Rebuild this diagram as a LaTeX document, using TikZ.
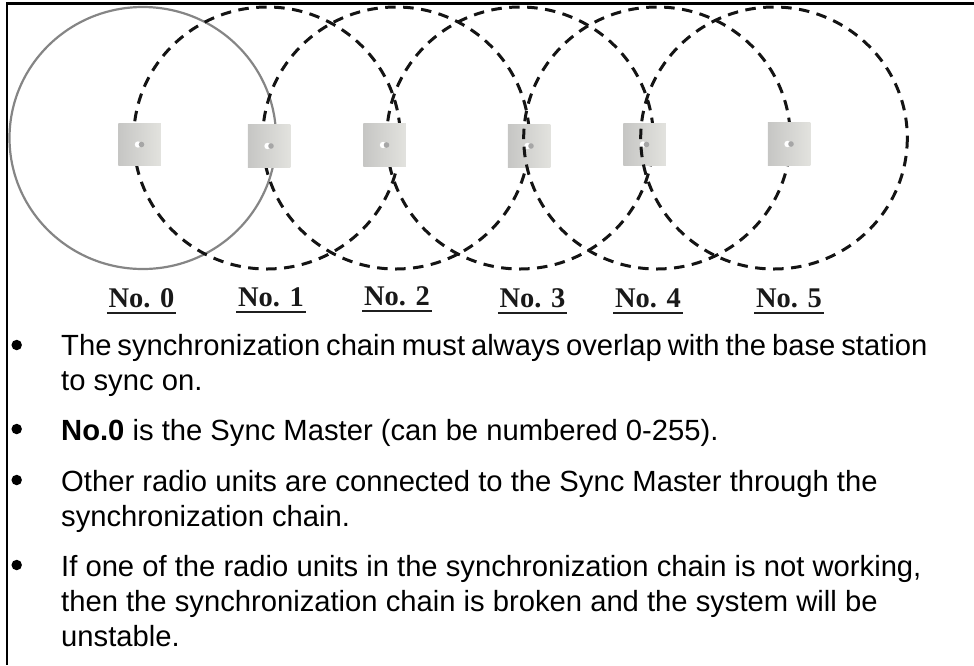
\documentclass[tikz,border=0pt]{standalone}
\usepackage{fontspec}
\setmainfont{Liberation Sans}
\newfontfamily\labelfont{Liberation Serif}
\definecolor{sqL}{HTML}{C6C6C4}
\definecolor{sqR}{HTML}{E2E2DE}
\definecolor{ringgray}{HTML}{858585}
\tikzset{
  x=1pt,y=-1pt,
  border/.style={line width=2.6pt,black},
  master/.style={line width=2.2pt,ringgray},
  rangering/.style={line width=3pt,black!92,dash pattern=on 10.5pt off 7.5pt},
  unitbox/.style={draw=none,left color=sqL,right color=sqR,minimum size=42.5pt,inner sep=0pt},
  unitname/.style={font=\labelfont\fontsize{28.5}{28.5}\selectfont\bfseries,text=black!90,anchor=base,inner ysep=0pt,inner xsep=1.5pt},
  uline/.style={line width=2.6pt,black!88},
  bullettext/.style={font=\fontsize{29.2}{35}\selectfont,anchor=base west,inner sep=0pt,align=left},
  bulletdot/.style={circle,fill=black,minimum size=10.5pt,inner sep=0pt},
}
\newcommand{\ringat}[2][rangering]{\draw[#1] (#2,138) ellipse[x radius=133.3,y radius=131];}
\newcommand{\unitat}[3]{%
  \node[unitbox] (#1) at (#2,#3) {};
  \fill[white] ([xshift=-1.5pt]#1.center) circle[radius=3.2];
  \fill[black!35] ([xshift=2pt]#1.center) circle[radius=2.8];
}
\begin{document}
\begin{tikzpicture}
\useasboundingbox (0,0) rectangle (974,665);
% frame
\coordinate (tl) at (7,3.7);
\coordinate (tr) at (974,3.7);
\coordinate (bl) at (7,665);
\draw[border] (tr) -- (tl) -- (bl);
% rings and units, in the reference's stacking order
\ringat[master]{142.8}
\ringat{267}
\ringat{396}
\ringat{520}
\unitat{u0}{139.5}{144.5}
\unitat{u1}{269}{146}
\unitat{u2}{384.5}{145}
\unitat{u3}{529}{146}
\unitat{u4}{644.5}{144.5}
\ringat{657}
\ringat{774}
\unitat{u5}{789}{144}
% labels
\node[unitname] (n0) at (141.5,307) {No. 0};
\node[unitname] (n1) at (271,306) {No. 1};
\node[unitname] (n2) at (397,305) {No. 2};
\node[unitname] (n3) at (532.5,307) {No. 3};
\node[unitname] (n4) at (648,307) {No. 4};
\node[unitname] (n5) at (789,307) {No. 5};
\foreach \n in {n0,n1,n2,n3,n4,n5}
  \draw[uline] ([yshift=-6pt]\n.base west) -- ([yshift=-6pt]\n.base east);
% bullets
\node[bulletdot] (b1) at (16.7,345) {};
\node[bulletdot] (b2) at (16.7,429) {};
\node[bulletdot] (b3) at (16.7,480) {};
\node[bulletdot] (b4) at (16.7,565) {};
\node[bullettext] (t1a) at (61,355) {\spaceskip=5.9pt The synchronization chain must always overlap with the base station};
\node[bullettext] (t1b) at (61,390) {to sync on.};
\node[bullettext] (t2) at (61,440) {\textbf{No.0} is the Sync Master (can be numbered 0-255).};
\node[bullettext] (t3a) at (61,491) {Other radio units are connected to the Sync Master through the};
\node[bullettext] (t3b) at (61,526) {synchronization chain.};
\node[bullettext] (t4a) at (61,576) {If one of the radio units in the synchronization chain is not working,};
\node[bullettext] (t4b) at (61,611) {then the synchronization chain is broken and the system will be};
\node[bullettext] (t4c) at (61,646) {unstable.};
\end{tikzpicture}
\end{document}
